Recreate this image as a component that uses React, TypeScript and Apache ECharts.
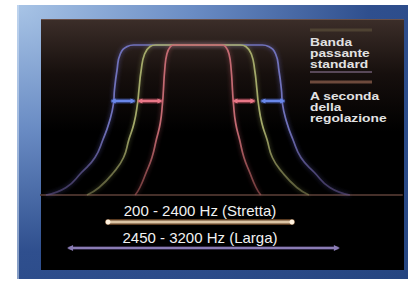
import React, { useEffect, useRef } from "react";
import * as echarts from "echarts";

// Filter response: level (0 = floor, 100 = flat top) and half-width of each band (x units, centre = 0)
const levels = [0, 5, 15, 25, 37, 48, 61, 70, 83, 94, 99, 100];
const redHalfWidth = [40, 37, 33, 29.3, 26.5, 24, 22.6, 22, 21.2, 19.8, 17.5, 15];
const greenHalfWidth = [70.7, 63, 53.8, 47.4, 44, 40.7, 38.5, 37.6, 36.2, 34, 30.5, 27];
const blueHalfWidth = [96.8, 84, 74.2, 65.6, 60.5, 56.7, 53.8, 53.2, 51.6, 49.5, 45, 41];

// Adjustment arrows
const arrowLevel = 62.7;
const blueArrows = [[-54, -41.4], [41.4, 54]];
const pinkArrows = [[-37, -24.2], [23.6, 35]];

// Bandwidth range bars
const narrowRange = [-57.3, 59.9];
const narrowLevel = -18;
const wideRange = [-81.5, 88.5];
const wideLevel = -35.3;

const bandLabels = ["200 - 2400 Hz (Stretta)", "2450 - 3200 Hz (Larga)"];
const legendStandard = ["Banda", "passante", "standard"];
const legendAdjust = ["A seconda", "della", "regolazione"];

const FONT = "'Liberation Sans', Arial, Helvetica, sans-serif";

function profile(half: number[]) {
  const left = levels.map((l, i) => [-half[i], l]);
  const right = levels.map((l, i) => [half[i], l]).reverse();
  return [...left, ...right];
}

function fade(top: string, bottom: string) {
  return new echarts.graphic.LinearGradient(0, 0, 0, 1, [
    { offset: 0, color: top },
    { offset: 0.55, color: top },
    { offset: 1, color: bottom },
  ]);
}

function curve(half: number[], top: string, bottom: string, glow: string) {
  return {
    type: "line",
    data: profile(half),
    smooth: 0.5,
    symbol: "none",
    clip: false,
    lineStyle: { width: 1.7, color: fade(top, bottom), shadowBlur: 4, shadowColor: glow },
    z: 3,
  };
}

// straight horizontal segment (no shadow: a zero-height box breaks SVG filters)
function seg(range: number[], level: number, color: string, width: number, z: number) {
  return {
    type: "line",
    data: range.map((x) => [x, level]),
    symbol: "none",
    clip: false,
    lineStyle: { width, color, cap: "round" },
    z,
  };
}

function arrow(range: number[], level: number, color: string, width: number, size: number) {
  return {
    type: "line",
    data: [
      { value: [range[0], level], symbolRotate: 90 },
      { value: [range[1], level], symbolRotate: -90 },
    ],
    symbol: "triangle",
    symbolSize: size,
    showSymbol: true,
    clip: false,
    itemStyle: { color },
    lineStyle: { width, color },
    z: 5,
  };
}

export default function App() {
  const ref = useRef<HTMLDivElement>(null);
  useEffect(() => {
    document.body.style.margin = "0";
    const chart = echarts.init(ref.current!, null, { renderer: "svg" });
    const legendText = (lines: string[], y0: number) =>
      lines.map((t, i) => ({
        type: "text",
        x: 310,
        y: y0 + i * 11,
        scaleX: 1.2,
        style: { text: t, fontSize: 11.5, fontWeight: "bold", fontFamily: FONT, fill: "#e2e2e2", textAlign: "left", textVerticalAlign: "middle" },
        z: 10,
      }));
    chart.setOption({
      animation: false,
      backgroundColor: "#ffffff",
      grid: { left: 41, right: 6, top: 45, bottom: 11 },
      xAxis: {
        type: "value",
        min: -100,
        max: 130,
        axisLine: { show: true, onZero: true, lineStyle: { color: "#46302a", width: 2 } },
        axisTick: { show: false },
        axisLabel: { show: false },
        splitLine: { show: false },
      },
      yAxis: {
        type: "value",
        min: -50,
        max: 100,
        axisLine: { show: false },
        axisTick: { show: false },
        axisLabel: { show: false },
        splitLine: { show: false },
      },
      graphic: [
        {
          type: "rect",
          shape: { x: 17, y: 5, width: 391, height: 274 },
          style: {
            fill: new echarts.graphic.RadialGradient(0, 0, 1.5, [
              { offset: 0, color: "#a8c4e6" },
              { offset: 0.3, color: "#6a8cc4" },
              { offset: 0.6, color: "#2f4f8e" },
              { offset: 1, color: "#23437e" },
            ]),
          },
          z: -10,
        },
        { type: "rect", shape: { x: 17, y: 5, width: 2, height: 274 }, style: { fill: "rgba(210,225,245,0.55)" }, z: -9 },
        {
          type: "rect",
          shape: { x: 41, y: 19, width: 363, height: 251 },
          style: {
            fill: new echarts.graphic.LinearGradient(0, 0, 0, 1, [
              { offset: 0, color: "#3c2e29" },
              { offset: 0.22, color: "#160f0d" },
              { offset: 0.45, color: "#000000" },
              { offset: 1, color: "#000000" },
            ]),
          },
          z: -8,
        },
        { type: "line", shape: { x1: 41, y1: 19.5, x2: 404, y2: 19.5 }, style: { stroke: "#6a5048", lineWidth: 1 }, z: -7 },
        { type: "line", shape: { x1: 310, y1: 30, x2: 372, y2: 30 }, style: { stroke: "#4e4232", lineWidth: 3 }, z: 10 },
        { type: "line", shape: { x1: 310, y1: 72, x2: 372, y2: 72 }, style: { stroke: "#584858", lineWidth: 2 }, z: 10 },
        { type: "line", shape: { x1: 310, y1: 82, x2: 372, y2: 82 }, style: { stroke: "#6e4a3c", lineWidth: 3 }, z: 10 },
        ...legendText(legendStandard, 42),
        ...legendText(legendAdjust, 96),
        {
          type: "text",
          x: 200,
          y: 210,
          style: { text: bandLabels[0], fontSize: 15, fontFamily: FONT, fill: "#f2f2f2", textAlign: "center", textVerticalAlign: "middle" },
          z: 10,
        },
        {
          type: "text",
          x: 200,
          y: 237,
          style: { text: bandLabels[1], fontSize: 15, fontFamily: FONT, fill: "#f2f2f2", textAlign: "center", textVerticalAlign: "middle" },
          z: 10,
        },
      ],
      series: [
        curve(blueHalfWidth, "#7072bc", "rgba(100,84,140,0.55)", "rgba(110,110,210,0.7)"),
        curve(greenHalfWidth, "#a4aa6a", "rgba(140,140,90,0.55)", "rgba(170,180,100,0.6)"),
        curve(redHalfWidth, "#c46a72", "rgba(170,90,90,0.6)", "rgba(210,100,110,0.6)"),
        ...blueArrows.map((r) => seg(r, arrowLevel, "rgba(80,110,220,0.45)", 5, 4)),
        ...pinkArrows.map((r) => seg(r, arrowLevel, "rgba(220,90,110,0.45)", 5, 4)),
        ...blueArrows.map((r) => arrow(r, arrowLevel, "#6a88ea", 2.5, 5)),
        ...pinkArrows.map((r) => arrow(r, arrowLevel, "#ea7888", 2.5, 5)),
        seg(narrowRange, narrowLevel, "rgba(200,130,70,0.45)", 6, 4),
        {
          type: "line",
          data: narrowRange.map((x) => [x, narrowLevel]),
          symbol: "circle",
          symbolSize: 5,
          showSymbol: true,
          clip: false,
          itemStyle: { color: "#fff2de" },
          lineStyle: { width: 3, color: "#dcc4a4" },
          z: 5,
        },
        seg(wideRange, wideLevel, "rgba(130,110,180,0.35)", 4, 4),
        arrow(wideRange, wideLevel, "#8a7cb4", 2, 6),
      ],
    });
    return () => chart.dispose();
  }, []);
  return <div ref={ref} style={{ position: "fixed", left: 0, top: 0, width: 408, height: 281 }} />;
}
